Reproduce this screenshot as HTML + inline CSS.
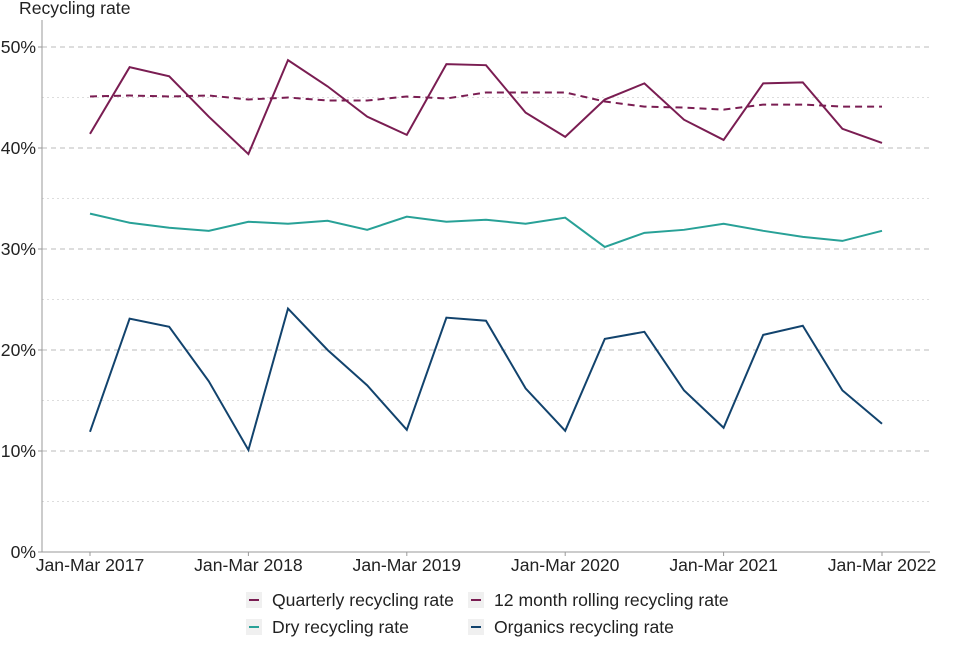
<!DOCTYPE html>
<html><head><meta charset="utf-8"><style>
body{margin:0;background:#fff;font-family:"Liberation Sans",Arial,sans-serif;}
svg text{font-family:"Liberation Sans",Arial,sans-serif;fill:#222;}
</style></head><body>
<svg id="chart" width="960" height="640">
<g id="grid"></g>
<g id="axes"></g>
<g id="series"></g>
<g id="legend"></g>
</svg>
<script>
const categories=["Jan-Mar 2017","Apr-Jun 2017","Jul-Sep 2017","Oct-Dec 2017","Jan-Mar 2018","Apr-Jun 2018","Jul-Sep 2018","Oct-Dec 2018","Jan-Mar 2019","Apr-Jun 2019","Jul-Sep 2019","Oct-Dec 2019","Jan-Mar 2020","Apr-Jun 2020","Jul-Sep 2020","Oct-Dec 2020","Jan-Mar 2021","Apr-Jun 2021","Jul-Sep 2021","Oct-Dec 2021","Jan-Mar 2022"];
const quarterly=[41.4,48.0,47.1,43.1,39.4,48.7,46.1,43.1,41.3,48.3,48.2,43.5,41.1,44.8,46.4,42.8,40.8,46.4,46.5,41.9,40.5];
const rolling=[45.1,45.2,45.1,45.2,44.8,45.0,44.7,44.7,45.1,44.9,45.5,45.5,45.5,44.6,44.1,44.0,43.8,44.3,44.3,44.1,44.1];
const dry=[33.5,32.6,32.1,31.8,32.7,32.5,32.8,31.9,33.2,32.7,32.9,32.5,33.1,30.2,31.6,31.9,32.5,31.8,31.2,30.8,31.8];
const organics=[11.9,23.1,22.3,16.9,10.1,24.1,20.0,16.5,12.1,23.2,22.9,16.2,12.0,21.1,21.8,16.0,12.3,21.5,22.4,16.0,12.7];
const yTicks=[0,10,20,30,40,50];
const xTickIdx=[0,4,8,12,16,20];
const NS="http://www.w3.org/2000/svg";
const x0=90,x1=882,yb=552,yt=47;
const FS=17.6;
const X=i=>x0+(x1-x0)*i/(categories.length-1);
const Y=v=>yb-(yb-yt)*v/50;
function mk(tag,attrs,parent){const e=document.createElementNS(NS,tag);for(const k in attrs)e.setAttribute(k,attrs[k]);parent.appendChild(e);return e;}
const grid=document.getElementById('grid'),axes=document.getElementById('axes'),ser=document.getElementById('series'),leg=document.getElementById('legend');
for(let v=5;v<=50;v+=5){const l=mk('line',{x1:42,x2:930,y1:Y(v),y2:Y(v),stroke:v%10===0?'#bbb':'#ddd','stroke-dasharray':v%10===0?'5,4':'2,3','stroke-width':1},grid);

}
const ya=mk('line',{x1:42,x2:42,y1:20,y2:552,stroke:'#999'},axes);


const xa=mk('line',{x1:42,x2:930,y1:552,y2:552,stroke:'#999'},axes);


yTicks.forEach(v=>{const t=mk('text',{x:36,y:Y(v)+6,'text-anchor':'end','font-size':FS},axes);t.textContent=v+'%';


mk('line',{x1:38,x2:42,y1:Y(v),y2:Y(v),stroke:'#999'},axes);});
xTickIdx.forEach(i=>{const t=mk('text',{x:X(i),y:571,'text-anchor':'middle','font-size':FS},axes);t.textContent=categories[i];


mk('line',{x1:X(i),x2:X(i),y1:552,y2:556,stroke:'#999'},axes);});
const yt2=mk('text',{x:19,y:14,'font-size':FS},axes);yt2.textContent='Recycling rate';


const S=[{d:rolling,c:'#7a1d52',dash:'7,5',n:'rolling-line'},{d:quarterly,c:'#7a1d52',dash:'',n:'quarterly-line'},{d:dry,c:'#28a197',dash:'',n:'dry-line'},{d:organics,c:'#12436d',dash:'',n:'organics-line'}];
S.forEach(s=>{const p=mk('polyline',{points:s.d.map((v,i)=>X(i)+','+Y(v)).join(' '),fill:'none',stroke:s.c,'stroke-width':2,'stroke-dasharray':s.dash},ser);

});
const L=[{t:'Quarterly recycling rate',c:'#7a1d52',x:246,y:600,n:'legend-quarterly'},{t:'12 month rolling recycling rate',c:'#7a1d52',x:468,y:600,n:'legend-rolling'},{t:'Dry recycling rate',c:'#28a197',x:246,y:627,n:'legend-dry'},{t:'Organics recycling rate',c:'#12436d',x:468,y:627,n:'legend-organics'}];
L.forEach(l=>{const g=mk('g',{},leg);


mk('rect',{x:l.x,y:l.y-8,width:16,height:16,fill:'#f0f0f0'},g);
mk('line',{x1:l.x+3,x2:l.x+13,y1:l.y,y2:l.y,stroke:l.c,'stroke-width':2},g);
const t=mk('text',{x:l.x+(l.x>400?26:26),y:l.y+6,'font-size':FS},g);t.textContent=l.t;});
</script>
</body></html>
